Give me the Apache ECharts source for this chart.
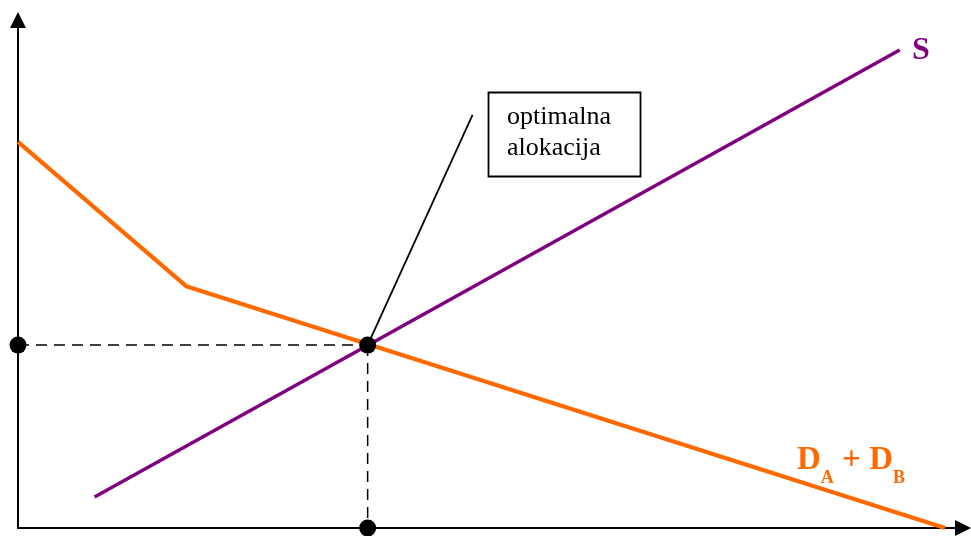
<!DOCTYPE html>
<html>
<head>
<meta charset="utf-8">
<script src="https://cdn.jsdelivr.net/npm/echarts@6/dist/echarts.min.js"></script>
<style>
  html, body { margin: 0; padding: 0; background: #fff; }
  #chart { width: 971px; height: 536px; }
</style>
</head>
<body>
<div id="chart"></div>
<script>
// krivulje ponude i potraznje (kolicina, cijena)
var demandPoints = [[0, 76.0], [17.8, 47.6], [98.1, 0]];
var supplyPoints = [[8.1, 6.1], [93.3, 94.1]];
var equilibrium = [37.0, 36.0];
var pointerEnd = [48.1, 81.3];

var myChart = echarts.init(document.getElementById('chart'));

var axisCommon = {
  type: 'value', min: 0, max: 100,
  axisLine: {
    lineStyle: { color: '#000', width: 2 },
    symbol: ['none', 'triangle'], symbolSize: [16, 16]
  },
  axisTick: { show: false }, axisLabel: { show: false }, splitLine: { show: false }
};

var option = {
  animation: false,
  grid: { left: 18, right: 8, top: 20, bottom: 8 },
  xAxis: axisCommon,
  yAxis: axisCommon,
  series: [
    {
      name: 'guide-h', type: 'line', silent: true, symbol: 'none',
      data: [[0, equilibrium[1]], equilibrium],
      lineStyle: { color: '#000', width: 1.5, type: [11, 7] }
    },
    {
      name: 'guide-v', type: 'line', silent: true, symbol: 'none',
      data: [equilibrium, [equilibrium[0], 0]],
      lineStyle: { color: '#000', width: 1.5, type: [11, 7] }
    },
    {
      name: 'pointer', type: 'line', silent: true, symbol: 'none',
      data: [equilibrium, pointerEnd],
      lineStyle: { color: '#000', width: 1.8 }
    },
    {
      name: 'D', type: 'line', symbol: 'none',
      data: demandPoints,
      lineStyle: { color: '#ff6a00', width: 4.2 }
    },
    {
      name: 'S', type: 'line', symbol: 'none',
      data: supplyPoints,
      lineStyle: { color: '#800080', width: 3.5 }
    },
    {
      name: 'dots', type: 'scatter', symbolSize: 17, clip: false,
      itemStyle: { color: '#000', opacity: 1 },
      data: [[0, equilibrium[1]], equilibrium, [equilibrium[0], 0]],
      z: 5
    }
  ],
  graphic: [
    {
      type: 'rect', shape: { x: 488.5, y: 92.5, width: 152, height: 84 },
      style: { fill: '#fff', stroke: '#000', lineWidth: 1.8 }
    },
    {
      type: 'text', left: 507, top: 102,
      style: {
        text: 'optimalna\nalokacija', fill: '#000',
        fontFamily: 'Liberation Serif', fontSize: 26, lineHeight: 31
      }
    },
    {
      type: 'text', left: 912, top: 35,
      style: { text: 'S', fill: '#800080', fontFamily: 'Liberation Serif', fontWeight: 'bold', fontSize: 32 }
    },
    {
      type: 'text', left: 797, top: 444,
      style: {
        text: '{d|D}{s|A}{d| + D}{s|B}',
        rich: {
          d: { fill: '#ff6a00', fontFamily: 'Liberation Serif', fontWeight: 'bold', fontSize: 33, verticalAlign: 'top' },
          s: { fill: '#ff6a00', fontFamily: 'Liberation Serif', fontWeight: 'bold', fontSize: 18, padding: [25, 0, 0, 0] }
        }
      }
    }
  ]
};

myChart.setOption(option);
</script>
</body>
</html>
